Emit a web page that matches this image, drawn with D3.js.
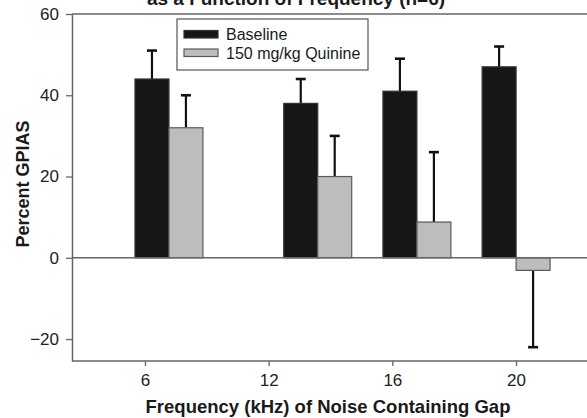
<!DOCTYPE html>
<html>
<head>
<meta charset="utf-8">
<script src="https://cdn.jsdelivr.net/npm/d3@7"></script>
<style>
  html, body { margin: 0; padding: 0; background: #fff; }
  svg { display: block; font-family: "Liberation Sans", Arial, sans-serif; }
</style>
</head>
<body>
<svg id="chart" width="587" height="418"></svg>
<script>
// Gap-prepulse inhibition by noise frequency, baseline vs. quinine
const frequencies = [6, 12, 16, 20];                 // kHz
const tickLabels = ["6", "12", "16", "20"];
const seriesNames = ["Baseline", "150 mg/kg Quinine"];
const baselineMean = [44, 38, 41, 47];
const baselineErr  = [7, 6, 8, 5];
const quinineMean  = [32, 20, 8.8, -3.1];
const quinineErr   = [8, 10, 17.2, 18.9];
const yTicks = [-20, 0, 20, 40, 60];

const svg = d3.select("#chart");
const plot = { left: 72, right: 589, top: 14, bottom: 361 };

const y = d3.scaleLinear().domain([-25.4, 60]).range([plot.bottom, plot.top]);
// category ticks along the axis
const xTick = d3.scalePoint().domain(tickLabels).range([plot.left, plot.right]).padding(0.59);
// bars sit on a linear kHz scale
const xLin = d3.scaleLinear().domain([2.09, 22.94]).range([plot.left, plot.right]);
const barW = xLin(1.37) - xLin(0);

const axisColor = "#666";

// frame top line
svg.append("line")
  .attr("x1", plot.left).attr("x2", plot.right)
  .attr("y1", plot.top).attr("y2", plot.top)
  .attr("stroke", axisColor).attr("stroke-width", 1.5);

// bars
const groups = frequencies.map((f, i) => ({
  f,
  b: baselineMean[i], be: baselineErr[i],
  q: quinineMean[i], qe: quinineErr[i]
}));

const bars = [];
groups.forEach(g => {
  bars.push({ x0: xLin(g.f) - barW, v: g.b, e: g.be, fill: "#161616", stroke: "#333" });
  bars.push({ x0: xLin(g.f), v: g.q, e: g.qe, fill: "#bcbdbf", stroke: "#5a5a5a" });
});

// error bars (one-sided, away from zero) drawn behind bars
const errG = svg.append("g");
bars.forEach(d => {
  const cx = d.x0 + barW / 2;
  const tip = d.v >= 0 ? d.v + d.e : d.v - d.e;
  errG.append("line")
    .attr("x1", cx).attr("x2", cx)
    .attr("y1", y(d.v)).attr("y2", y(tip))
    .attr("stroke", "#111").attr("stroke-width", 2.2);
  errG.append("line")
    .attr("x1", cx - 5).attr("x2", cx + 5)
    .attr("y1", y(tip)).attr("y2", y(tip))
    .attr("stroke", "#111").attr("stroke-width", 2.6);
});

svg.append("g").selectAll("rect").data(bars).join("rect")
  .attr("x", d => d.x0)
  .attr("width", barW)
  .attr("y", d => y(Math.max(0, d.v)))
  .attr("height", d => Math.abs(y(d.v) - y(0)))
  .attr("fill", d => d.fill)
  .attr("stroke", d => d.stroke)
  .attr("stroke-width", 1.2);

// zero line
svg.append("line")
  .attr("x1", plot.left).attr("x2", plot.right)
  .attr("y1", y(0)).attr("y2", y(0))
  .attr("stroke", axisColor).attr("stroke-width", 1.5);

// y axis
const yAxis = svg.append("g")
  .attr("transform", `translate(${plot.left},0)`)
  .call(d3.axisLeft(y).tickValues(yTicks).tickSize(6).tickPadding(7).tickSizeOuter(0));
yAxis.select(".domain").attr("stroke", axisColor).attr("stroke-width", 1.5);
yAxis.selectAll(".tick line").attr("stroke", axisColor).attr("stroke-width", 1.3);
yAxis.selectAll(".tick text").attr("font-size", 17).attr("fill", "#222")
  .attr("font-family", "Liberation Sans, Arial, sans-serif");

// x axis
const xAxis = svg.append("g")
  .attr("transform", `translate(0,${plot.bottom})`)
  .call(d3.axisBottom(xTick).tickSize(5).tickPadding(8).tickSizeOuter(0));
xAxis.select(".domain").attr("stroke", axisColor).attr("stroke-width", 1.5)
  .attr("d", `M${plot.left},0H${plot.right}`);
xAxis.selectAll(".tick line").attr("stroke", axisColor).attr("stroke-width", 1.3);
xAxis.selectAll(".tick text").attr("font-size", 17).attr("fill", "#222")
  .attr("font-family", "Liberation Sans, Arial, sans-serif");

// axis titles
svg.append("text")
  .attr("x", 328).attr("y", 412.5)
  .attr("text-anchor", "middle")
  .attr("font-size", 18.5).attr("font-weight", "bold").attr("fill", "#1a1a1a")
  .text("Frequency (kHz) of Noise Containing Gap");

svg.append("text")
  .attr("transform", "translate(29,184) rotate(-90)")
  .attr("text-anchor", "middle")
  .attr("font-size", 18).attr("font-weight", "bold").attr("fill", "#1a1a1a")
  .text("Percent GPIAS");

// chart title (second line)
svg.append("text")
  .attr("x", 296).attr("y", 5)
  .attr("text-anchor", "middle")
  .attr("font-size", 19).attr("font-weight", "bold").attr("fill", "#1a1a1a")
  .text("as a Function of Frequency (n=6)");

// legend
const lg = svg.append("g").attr("transform", "translate(177,19)");
lg.append("rect")
  .attr("width", 191).attr("height", 51)
  .attr("fill", "#fff").attr("stroke", "#555").attr("stroke-width", 1.2);
const swatchFill = ["#161616", "#bcbdbf"];
const swatchStroke = ["#333", "#5a5a5a"];
seriesNames.forEach((name, i) => {
  const row = lg.append("g").attr("transform", `translate(7,${11.5 + i * 18.5})`);
  row.append("rect")
    .attr("width", 34).attr("height", 7.5)
    .attr("fill", swatchFill[i]).attr("stroke", swatchStroke[i]).attr("stroke-width", 1.2);
  row.append("text")
    .attr("x", 42).attr("y", 9.5)
    .attr("font-size", 16).attr("fill", "#1a1a1a")
    .text(name);
});
</script>
</body>
</html>
